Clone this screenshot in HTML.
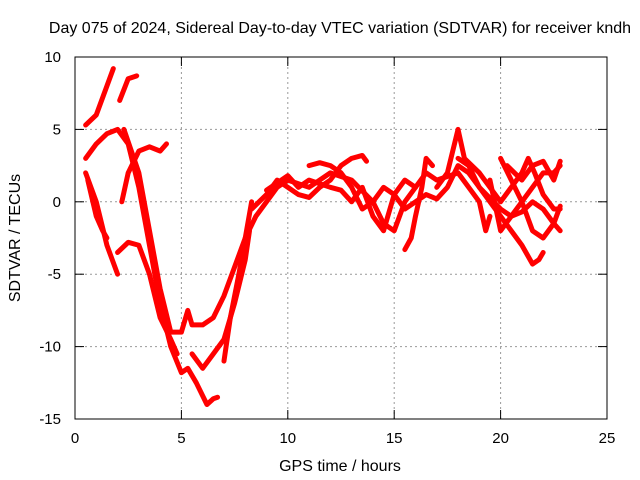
<!DOCTYPE html>
<html><head><meta charset="utf-8"><style>
body{margin:0;background:#fff}
svg{display:block;font-family:"Liberation Sans",sans-serif}
</style></head><body>
<svg id="chart" width="640" height="480">
<text x="340" y="33" font-size="16" text-anchor="middle">Day 075 of 2024, Sidereal Day-to-day VTEC variation (SDTVAR) for receiver kndh</text>
<text x="340" y="471" font-size="16" text-anchor="middle">GPS time / hours</text>
<text transform="translate(20,238) rotate(-90)" font-size="16" text-anchor="middle">SDTVAR / TECUs</text>
<g id="grid"></g><g id="ticks"></g><g id="series"></g>
<rect x="75" y="57" width="532" height="362" fill="none" stroke="#000"/>
</svg>
<script>
const xTicks=[0,5,10,15,20,25];
const yTicks=[-15,-10,-5,0,5,10];
const traces=[
[[0.5,5.3],[1,6],[1.5,8],[1.8,9.2]],
[[2.1,7],[2.5,8.5],[2.9,8.7]],
[[2.3,5],[3,2],[3.5,-2],[4,-6],[4.5,-9],[5,-9],[5.3,-7.5],[5.5,-8.5],[6,-8.5],[6.5,-8],[7,-6.5],[7.5,-4.5],[8,-2.5],[8.3,0]],
[[0.5,3],[1,4],[1.5,4.7],[2,5],[2.5,4],[3,1],[3.5,-3],[4,-7],[4.5,-10],[5,-11.8],[5.3,-11.5],[5.7,-12.5],[6.2,-14],[6.5,-13.6],[6.7,-13.5]],
[[0.5,2],[1,0],[1.5,-3],[2,-5]],
[[0.6,1.5],[1,-1],[1.3,-2],[1.5,-2.5]],
[[2,-3.5],[2.5,-2.8],[3,-3],[3.5,-5],[4,-8],[4.5,-9.5],[4.8,-10.5]],
[[2.2,0],[2.5,2],[3,3.5],[3.5,3.8],[4,3.5],[4.3,4]],
[[5.5,-10.5],[6,-11.5],[6.5,-10.5],[7,-9.5],[7.5,-7],[8,-4],[8.2,-2]],
[[7,-11],[7.3,-8],[7.7,-5],[8,-2.5],[8.5,-1],[9,0],[9.5,1],[10,1.5],[11,1],[12,2],[13,1.5],[14,0],[14.5,-1.5],[15,-2],[15.5,0],[16,1],[16.5,2],[17,1.5],[18,2],[18.5,1],[19,0],[19.3,-2],[19.5,-1]],
[[8.3,-0.5],[9,0.5],[9.5,1.5],[10,1],[10.5,0.5],[11,0.3],[11.5,1],[12,1.5],[12.5,2.5],[13,3],[13.5,3.2],[13.7,2.8]],
[[11,2.5],[11.5,2.7],[12,2.5],[12.5,2],[13,1],[13.5,-0.5],[14,0],[14.5,1],[15,0.5],[15.5,-0.5],[16,0],[16.5,0.5],[17,0.2],[17.5,1],[18,2.5],[18.5,2],[19,1],[19.5,0],[20,-1],[20.5,-2],[21,-3],[21.5,-4.3],[21.8,-4],[22,-3.5]],
[[15.5,-3.3],[15.8,-2.5],[16,-1],[16.3,1],[16.5,3],[16.8,2.5]],
[[17,1],[17.5,2],[18,5],[18.3,3],[19,2],[19.5,1],[20,0],[20.5,1],[21,2],[21.3,3],[21.6,2],[22,0.5],[22.5,-0.5],[22.8,-0.5]],
[[18,3],[18.5,2.5],[19,1],[20,-0.5],[20.5,-1],[21,-0.7],[21.5,0],[22,-0.5],[22.5,-1.5],[22.8,-2]],
[[19.5,1.5],[20,-2],[20.5,-1],[21,0],[21.5,1],[22,2],[22.5,2],[22.8,2.5]],
[[20,3],[20.5,1.5],[21,0],[21.5,-2],[22,-2.5],[22.5,-1.5],[22.8,-0.3]],
[[20.3,2.5],[21,1.5],[21.5,2.5],[22,2.8],[22.5,1.5],[22.8,2.8]],
[[9,0.8],[10,1.8],[10.5,1],[11,1.5],[12,1],[12.5,0.8],[13,0],[13.5,1],[14,-1],[14.5,-2],[15,0.5],[15.5,1.5],[16,1]]
];
const NS="http://www.w3.org/2000/svg";
const X=t=>75+t*(532/25);
const Y=v=>419-(v+15)*(362/25);
function mk(tag,attrs,parent){const e=document.createElementNS(NS,tag);for(const k in attrs)e.setAttribute(k,attrs[k]);document.getElementById(parent).appendChild(e);return e;}
xTicks.forEach(t=>{
 if(t>0&&t<25){const g=mk('line',{x1:X(t),x2:X(t),y1:57,y2:419,stroke:'#999','stroke-dasharray':'2,3'},'grid');
 
 }
 mk('line',{x1:X(t),x2:X(t),y1:419,y2:410,stroke:'#000'},'ticks');
 mk('line',{x1:X(t),x2:X(t),y1:57,y2:66,stroke:'#000'},'ticks');
 const l=mk('text',{x:X(t),y:443,'font-size':15,'text-anchor':'middle'},'ticks');l.textContent=t;
 
 
});
yTicks.forEach(v=>{
 if(v>-15&&v<10){const g=mk('line',{x1:75,x2:607,y1:Y(v),y2:Y(v),stroke:'#999','stroke-dasharray':'2,3'},'grid');
 
 }
 mk('line',{x1:75,x2:84,y1:Y(v),y2:Y(v),stroke:'#000'},'ticks');
 mk('line',{x1:598,x2:607,y1:Y(v),y2:Y(v),stroke:'#000'},'ticks');
 const l=mk('text',{x:61,y:Y(v)+5,'font-size':15,'text-anchor':'end'},'ticks');l.textContent=v;
 
 
});
traces.forEach((tr,i)=>{
 const p=mk('polyline',{points:tr.map(d=>X(d[0])+','+Y(d[1])).join(' '),fill:'none',stroke:'#f00','stroke-width':5,'stroke-linejoin':'round','stroke-linecap':'round'},'series');
 
 
});
</script>
</body></html>
